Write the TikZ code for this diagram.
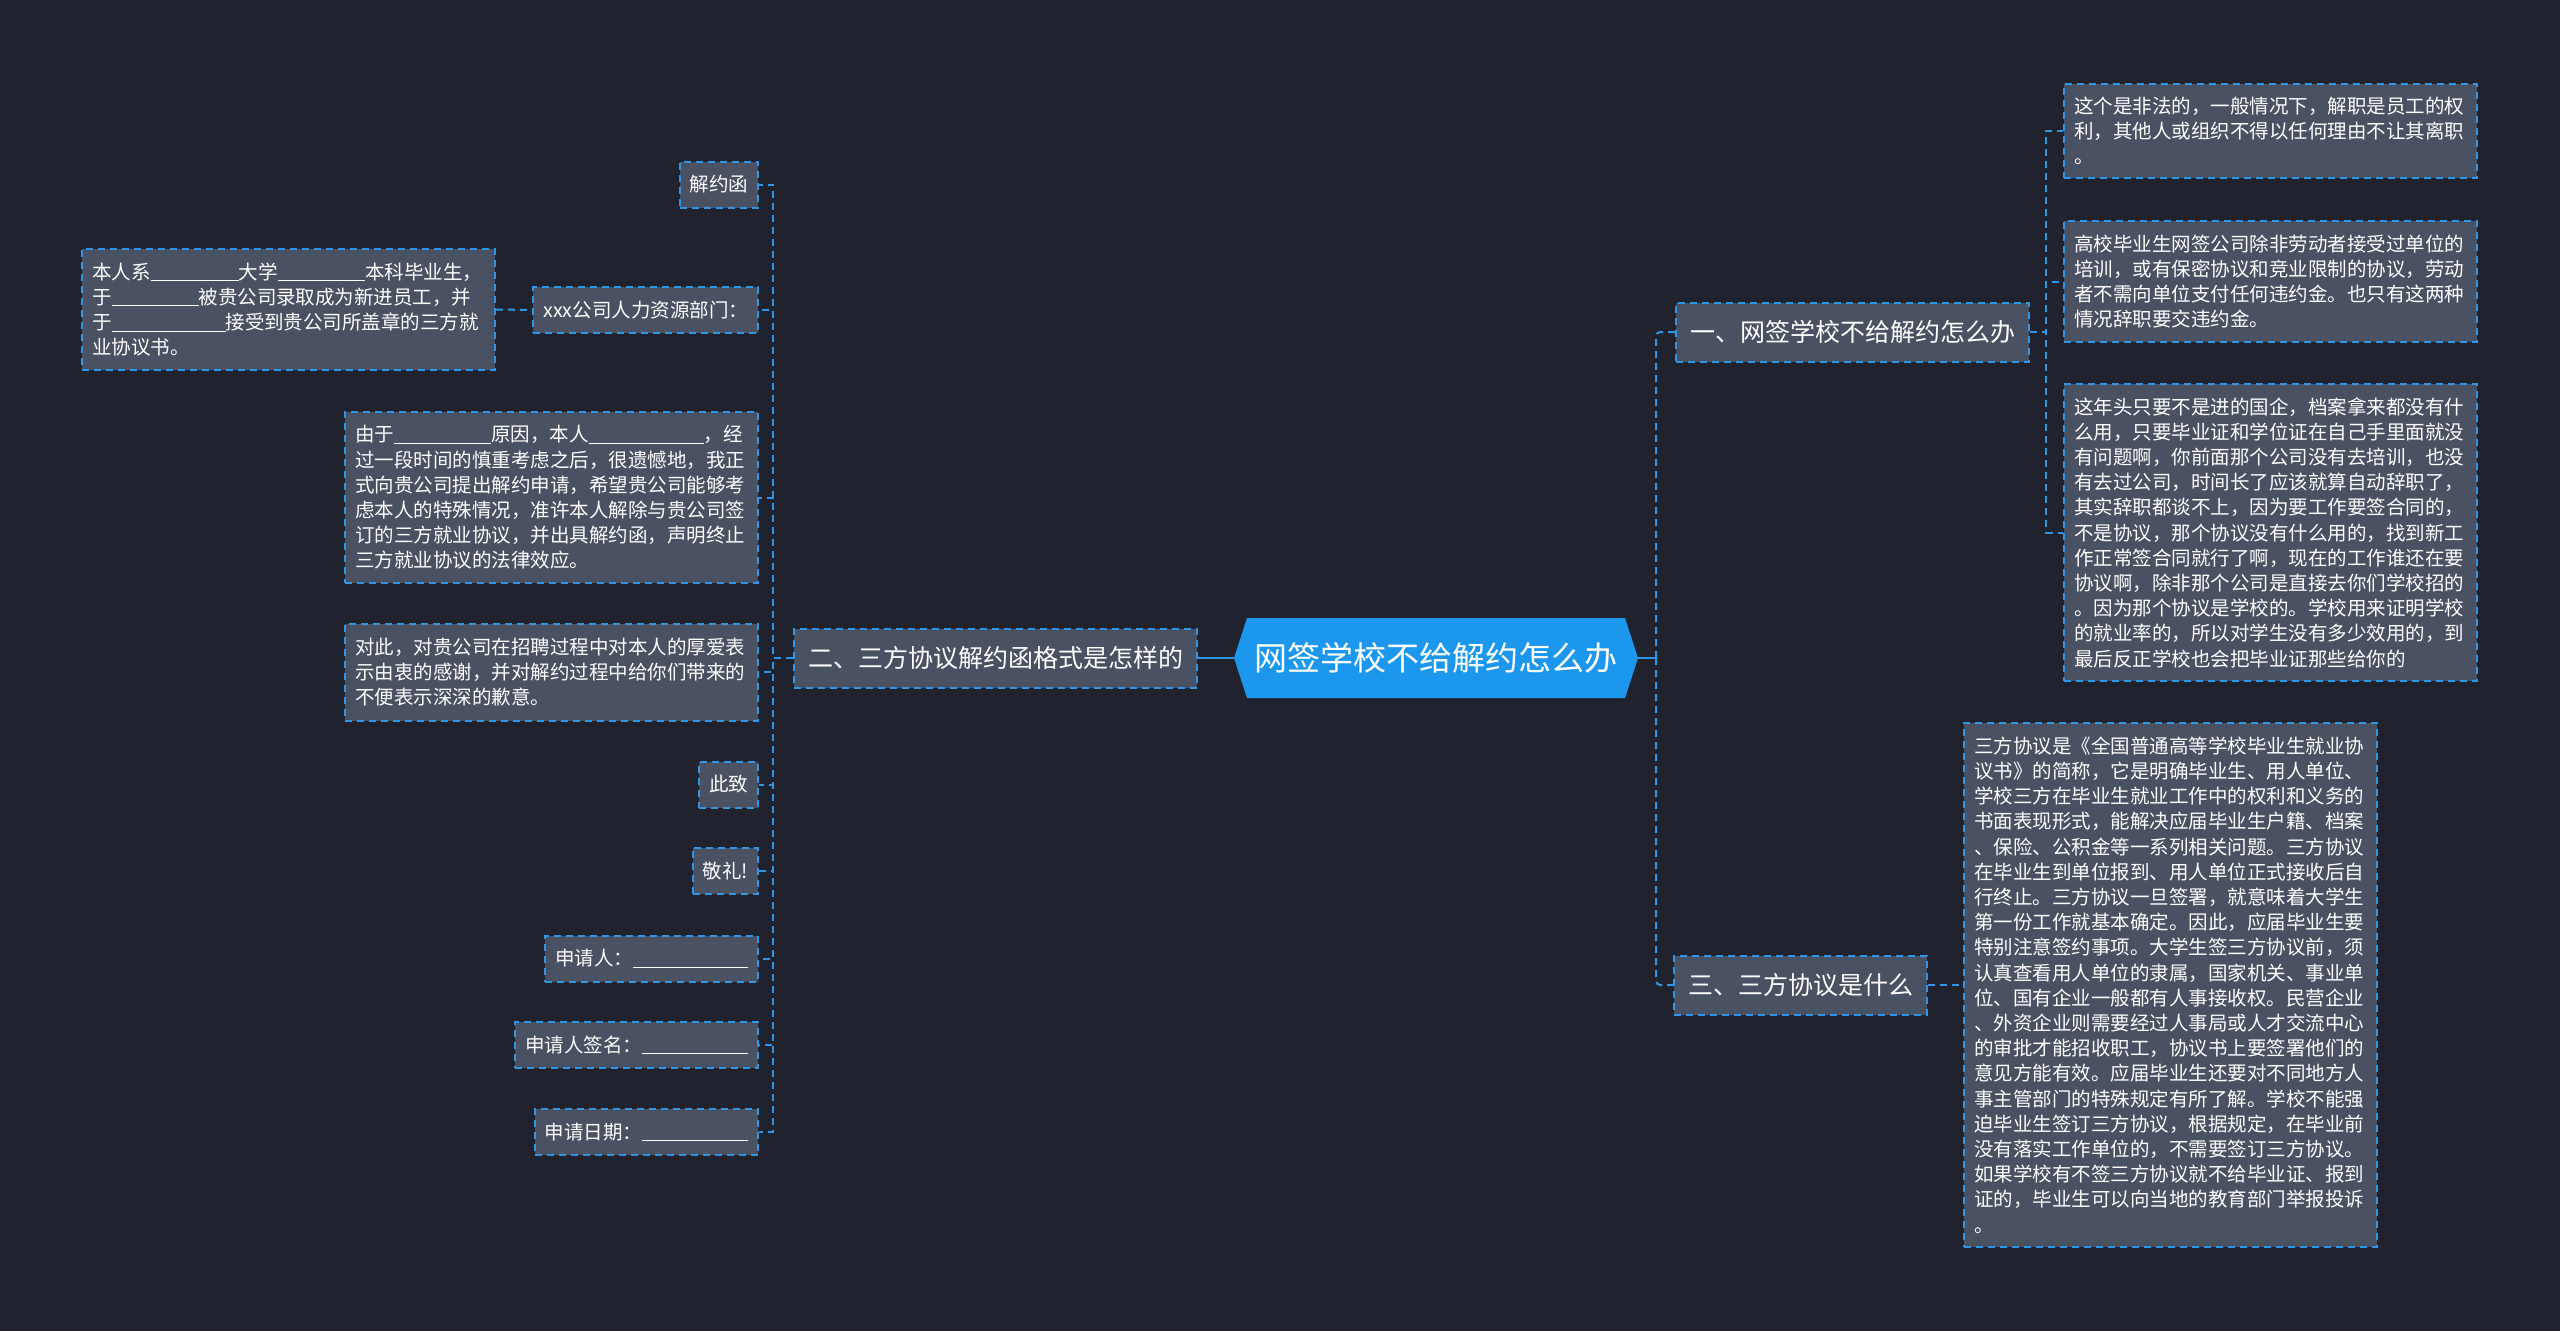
\documentclass[tikz,border=0pt]{standalone}
\usepackage{fontspec}
\setmainfont{Noto Sans CJK SC}
\usepackage{tikz}
\usetikzlibrary{positioning}
\usepackage{xcolor}
\definecolor{bgnavy}{HTML}{20232E}
\definecolor{cardgray}{HTML}{4A5162}
\definecolor{edgeblue}{HTML}{2F96E6}
\definecolor{rootblue}{HTML}{1C97EE}
\newcommand{\blank}[1]{\rule[-2pt]{#1pt}{1pt}}

\begin{document}
\begin{tikzpicture}[x=1pt, y=-1pt,
    card/.style={draw=edgeblue, fill=cardgray, dash pattern=on 7pt off 5pt, line width=2pt, text=white, align=left},
    leaf/.style={card, font=\fontsize{19.5}{25.2}\selectfont, inner xsep=10pt, inner ysep=4pt, minimum height=46pt},
    para/.style={leaf, text width=393pt},
    branch/.style={card, font=\fontsize{25}{30}\selectfont, inner xsep=14pt, minimum height=59pt},
    trunk/.style={draw=edgeblue, line width=2.2pt},
    twig/.style={draw=edgeblue, line width=2pt, dash pattern=on 7pt off 5pt}]

    % Background
    \path[use as bounding box, fill=bgnavy] (0,0) rectangle (2560,1331);

    % Root
    \fill[rootblue] (1234,658) -- (1247,618) -- (1625,618) -- (1638,658) -- (1625,698) -- (1247,698) -- cycle;
    \node[text=white, font=\fontsize{33}{40}\selectfont, minimum width=404pt, minimum height=80pt] (root) at (1436,658) {网签学校不给解约怎么办};

    % Branches
    \node[branch, anchor=west] (b1) at (1675,332) {一、网签学校不给解约怎么办};
    \node[branch, anchor=east] (b2) at (1198,658) {二、三方协议解约函格式是怎样的};
    \node[branch, anchor=west] (b3) at (1673,985) {三、三方协议是什么};

    % Right leaves
    \node[para, anchor=west, minimum height=94pt] (r1) at (2063,131) {这个是非法的，一般情况下，解职是员工的权\\利，其他人或组织不得以任何理由不让其离职\\。};
    \node[para, anchor=west, minimum height=121pt] (r2) at (2063,281.5) {高校毕业生网签公司除非劳动者接受过单位的\\培训，或有保密协议和竞业限制的协议，劳动\\者不需向单位支付任何违约金。也只有这两种\\情况辞职要交违约金。};
    \node[para, anchor=west, minimum height=297pt] (r3) at (2063,532.5) {这年头只要不是进的国企，档案拿来都没有什\\么用，只要毕业证和学位证在自己手里面就没\\有问题啊，你前面那个公司没有去培训，也没\\有去过公司，时间长了应该就算自动辞职了，\\其实辞职都谈不上，因为要工作要签合同的，\\不是协议，那个协议没有什么用的，找到新工\\作正常签合同就行了啊，现在的工作谁还在要\\协议啊，除非那个公司是直接去你们学校招的\\。因为那个协议是学校的。学校用来证明学校\\的就业率的，所以对学生没有多少效用的，到\\最后反正学校也会把毕业证那些给你的};
    \node[para, anchor=west, minimum height=524pt] (r4) at (1963,985) {三方协议是《全国普通高等学校毕业生就业协\\议书》的简称，它是明确毕业生、用人单位、\\学校三方在毕业生就业工作中的权利和义务的\\书面表现形式，能解决应届毕业生户籍、档案\\、保险、公积金等一系列相关问题。三方协议\\在毕业生到单位报到、用人单位正式接收后自\\行终止。三方协议一旦签署，就意味着大学生\\第一份工作就基本确定。因此，应届毕业生要\\特别注意签约事项。大学生签三方协议前，须\\认真查看用人单位的隶属，国家机关、事业单\\位、国有企业一般都有人事接收权。民营企业\\、外资企业则需要经过人事局或人才交流中心\\的审批才能招收职工，协议书上要签署他们的\\意见方能有效。应届毕业生还要对不同地方人\\事主管部门的特殊规定有所了解。学校不能强\\迫毕业生签订三方协议，根据规定，在毕业前\\没有落实工作单位的，不需要签订三方协议。\\如果学校有不签三方协议就不给毕业证、报到\\证的，毕业生可以向当地的教育部门举报投诉\\。};

    % Left leaves
    \node[leaf, anchor=east] (l1) at (759,184.5) {解约函};
    \node[leaf, anchor=east] (l2) at (759,310) {xxx公司人力资源部门：};
    \node[para, anchor=east, minimum height=121pt] (l2a) at (496,309.5) {本人系\blank{88}大学\blank{88}本科毕业生，\\于\blank{87}被贵公司录取成为新进员工，并\\于\blank{114}接受到贵公司所盖章的三方就\\业协议书。};
    \node[para, anchor=east, minimum height=171pt] (l3) at (759,497.5) {由于\blank{97}原因，本人\blank{115}，经\\过一段时间的慎重考虑之后，很遗憾地，我正\\式向贵公司提出解约申请，希望贵公司能够考\\虑本人的特殊情况，准许本人解除与贵公司签\\订的三方就业协议，并出具解约函，声明终止\\三方就业协议的法律效应。};
    \node[para, anchor=east, minimum height=97pt] (l4) at (759,672) {对此，对贵公司在招聘过程中对本人的厚爱表\\示由衷的感谢，并对解约过程中给你们带来的\\不便表示深深的歉意。};
    \node[leaf, anchor=east] (l5) at (759,784.5) {此致};
    \node[leaf, anchor=east] (l6) at (759,871) {敬礼!};
    \node[leaf, anchor=east] (l7) at (759,958.5) {申请人：\blank{115}};
    \node[leaf, anchor=east] (l8) at (759,1045) {申请人签名：\blank{106}};
    \node[leaf, anchor=east] (l9) at (759,1132) {申请日期：\blank{106}};

    % Connectors
    \draw[trunk] (b2.east) -- (root.west);
    \draw[trunk] (root.east) -- ++(18,0) coordinate (rj);
    \draw[twig, rounded corners=4pt] (rj) |- (b1.west);
    \draw[twig, rounded corners=4pt] (rj) |- (b3.west);
    \foreach \n in {r1,r2,r3}
        \draw[twig] (b1.east) -- ++(16,0) |- (\n.west);
    \draw[twig] (b3.east) -- (r4.west);
    \foreach \n in {l1,l2,l3,l4,l5,l6,l7,l8,l9}
        \draw[twig] (b2.west) -- ++(-20,0) |- (\n.east);
    \draw[twig] (l2a.east) -- (l2.west);
\end{tikzpicture}
\end{document}
